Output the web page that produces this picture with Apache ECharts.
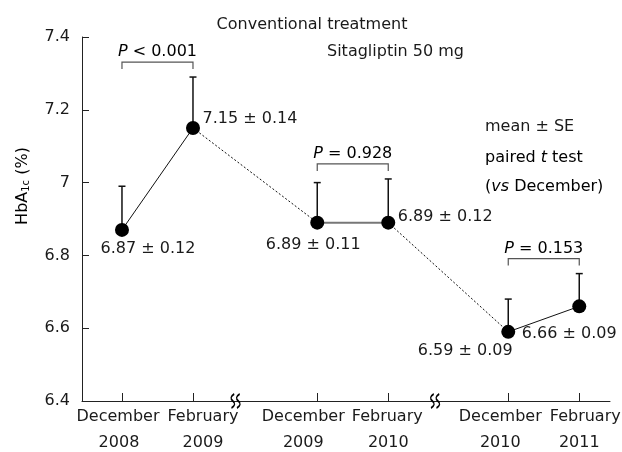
<!DOCTYPE html>
<html>
<head>
<meta charset="utf-8">
<script src="https://cdn.jsdelivr.net/npm/echarts@6/dist/echarts.min.js"></script>
<style>
html,body{margin:0;padding:0;background:#fff;}
#chart{width:622px;height:452px;}
</style>
</head>
<body>
<div id="chart"></div>
<script>
// ---- data ----
const months = ['December', 'February', 'December', 'February', 'December', 'February'];
const years = ['2008', '2009', '2009', '2010', '2010', '2011'];
const xPos = [0, 1, 2.75, 3.75, 5.44, 6.44];
const means = [6.87, 7.15, 6.89, 6.89, 6.59, 6.66];
const se = [0.12, 0.14, 0.11, 0.12, 0.09, 0.09];
const pairs = [[0, 1], [2, 3], [4, 5]];
const pLabels = ['< 0.001', '= 0.928', '= 0.153'];
const breakPos = [1.6, 4.41];
const yTicks = [6.4, 6.6, 6.8, 7.0, 7.2, 7.4];

// ---- style/layout ----
const FONT = 'DejaVu Sans';
const TXT = '#1a1a1a';
const labelOffsets = [[26, 19], [57, -9], [-4, 22], [57, -6], [-43, 19], [-10, 27]];
const catShift = [[-4, -3], [10, 10], [-14, -14], [-1, 0], [-8, -8], [6, 0]];

const pts = xPos.map((x, i) => [x, means[i]]);
const solidData = [];
pairs.forEach((p, k) => {
  if (k === 1) return;
  if (solidData.length) solidData.push('-');
  solidData.push(pts[p[0]], pts[p[1]]);
});
const grayData = [pts[pairs[1][0]], pts[pairs[1][1]]];
const dotData = [];
for (let k = 0; k < pairs.length - 1; k++) {
  if (dotData.length) dotData.push('-');
  dotData.push(pts[pairs[k][1]], pts[pairs[k + 1][0]]);
}

const chart = echarts.init(document.getElementById('chart'), null, {renderer: 'canvas'});
const option = {
  backgroundColor: '#fff',
  animation: false,
  textStyle: {fontFamily: FONT, color: TXT},
  grid: {left: 82, right: 12, top: 37, bottom: 51, containLabel: false, outerBoundsMode: 'none'},
  xAxis: {
    type: 'value', min: -0.563, max: 6.873,
    axisLine: {show: true, onZero: false, lineStyle: {color: '#222', width: 1}},
    axisTick: {show: true, inside: true, length: 8, customValues: xPos, lineStyle: {color: '#222'}},
    axisLabel: {show: false},
    splitLine: {show: false}
  },
  yAxis: {
    type: 'value', min: 6.4, max: 7.4, interval: 0.2,
    axisLine: {show: true, onZero: false, lineStyle: {color: '#222', width: 1}},
    axisTick: {show: true, inside: true, length: 7, lineStyle: {color: '#222'}},
    axisLabel: {margin: 12, fontSize: 16, fontFamily: FONT, color: TXT, showMinLabel: true, showMaxLabel: true,
      formatter: v => { const t = yTicks.find(y => Math.abs(y - v) < 1e-6); return t === undefined ? '' : String(+t.toFixed(1)); }},
    splitLine: {show: false}
  },
  graphic: [
    {type: 'text', x: 312, y: 25, style: {text: 'Conventional treatment', font: '16px "DejaVu Sans"', fill: TXT, textAlign: 'center', textVerticalAlign: 'middle'}},
    {type: 'text', x: 327, y: 52, style: {text: 'Sitagliptin 50 mg', font: '16px "DejaVu Sans"', fill: TXT, textAlign: 'left', textVerticalAlign: 'middle'}},
    {type: 'text', x: 485, y: 127, style: {text: 'mean ± SE', font: '16px "DejaVu Sans"', fill: TXT, textAlign: 'left', textVerticalAlign: 'middle'}},
    {type: 'text', x: 485, y: 158, style: {text: '{n|paired }{i|t}{n| test}', textAlign: 'left', textVerticalAlign: 'middle',
      rich: {n: {fontSize: 16, fontFamily: FONT, color: TXT}, i: {fontSize: 16, fontFamily: FONT, fontStyle: 'italic', color: TXT}}}},
    {type: 'text', x: 485, y: 187, style: {text: '{n|(}{i|vs}{n| December)}', textAlign: 'left', textVerticalAlign: 'middle',
      rich: {n: {fontSize: 16, fontFamily: FONT, color: TXT}, i: {fontSize: 16, fontFamily: FONT, fontStyle: 'italic', color: TXT}}}},
    {type: 'text', x: 23, y: 186, rotation: Math.PI / 2, style: {text: '{n|HbA}{s|1c}{n| (%)}', textAlign: 'center', textVerticalAlign: 'middle',
      rich: {n: {fontSize: 16, fontFamily: FONT, color: TXT, verticalAlign: 'bottom'}, s: {fontSize: 10, fontFamily: FONT, color: TXT, padding: [6, 0, 0, 0]}}}}
  ],
  series: [
    {type: 'line', data: solidData, symbol: 'none', lineStyle: {color: '#111', width: 1}, z: 2},
    {type: 'line', data: grayData, symbol: 'none', lineStyle: {color: '#777', width: 2}, z: 2},
    {type: 'line', data: dotData, symbol: 'none', lineStyle: {color: '#111', width: 1, type: [2, 2]}, z: 2},
    {
      // category labels under the x axis
      type: 'custom', z: 3, silent: true,
      data: xPos.map((x, i) => [x, 6.4, i]),
      renderItem: (params, api) => {
        const i = api.value(2);
        const p = api.coord([api.value(0), api.value(1)]);
        const st = (t, dx, y) => ({type: 'text', x: p[0] + dx, y: y, style: {text: t, fontSize: 16, fontFamily: FONT, fill: TXT, textAlign: 'center', textVerticalAlign: 'middle'}});
        return {type: 'group', children: [st(months[i], catShift[i][0], p[1] + 16), st(years[i], catShift[i][1], p[1] + 42)]};
      }
    },
    {
      type: 'custom', z: 3,
      data: xPos.map((x, i) => [x, means[i], se[i]]),
      renderItem: (params, api) => {
        const x = api.value(0), m = api.value(1), s = api.value(2);
        const p0 = api.coord([x, m]), p1 = api.coord([x, m + s]);
        const st = {stroke: '#111', lineWidth: 1.5};
        return {type: 'group', children: [
          {type: 'line', shape: {x1: p0[0], y1: p0[1], x2: p1[0], y2: p1[1]}, style: st},
          {type: 'line', shape: {x1: p1[0] - 3.5, y1: p1[1], x2: p1[0] + 3.5, y2: p1[1]}, style: st}
        ]};
      }
    },
    {
      type: 'custom', z: 3,
      data: pairs.map((p, k) => [xPos[p[0]], xPos[p[1]], Math.max(means[p[0]] + se[p[0]], means[p[1]] + se[p[1]]), k]),
      renderItem: (params, api) => {
        const xa = api.value(0), xb = api.value(1), top = api.value(2), k = api.value(3);
        const a = api.coord([xa, top]), b = api.coord([xb, top]);
        const yb = a[1] - 15;
        const st = {stroke: '#555', lineWidth: 1.2, fill: null};
        return {type: 'group', children: [
          {type: 'polyline', shape: {points: [[a[0], yb + 7], [a[0], yb], [b[0], yb], [b[0], yb + 7]]}, style: st},
          {type: 'text', x: (a[0] + b[0]) / 2, y: yb - 10, style: {
            text: '{i|P}{n| ' + pLabels[k] + '}', textAlign: 'center', textVerticalAlign: 'middle',
            rich: {i: {fontSize: 16, fontFamily: FONT, fontStyle: 'italic', color: TXT}, n: {fontSize: 16, fontFamily: FONT, color: TXT}}
          }}
        ]};
      }
    },
    {
      type: 'scatter', z: 5, symbol: 'circle', symbolSize: 14,
      itemStyle: {color: '#000', opacity: 1},
      data: pts.map((p, i) => ({
        value: p,
        label: {show: true, position: 'inside', offset: labelOffsets[i], opacity: 1,
          formatter: means[i].toFixed(2) + ' ± ' + se[i].toFixed(2),
          fontSize: 16, fontFamily: FONT, color: TXT, textBorderWidth: 0}
      }))
    },
    {
      type: 'scatter', z: 6, silent: true,
      symbol: 'path://M4,0 Q0,4 3,8 Q6,12 2,16 M8,0 Q4,4 7,8 Q10,12 6,16',
      symbolSize: [9, 14], symbolKeepAspect: false,
      itemStyle: {color: 'rgba(0,0,0,0)', borderColor: '#000', borderWidth: 1.6, opacity: 1},
      data: breakPos.map(x => [x, 6.4])
    }
  ]
};
chart.setOption(option);
</script>
</body>
</html>
